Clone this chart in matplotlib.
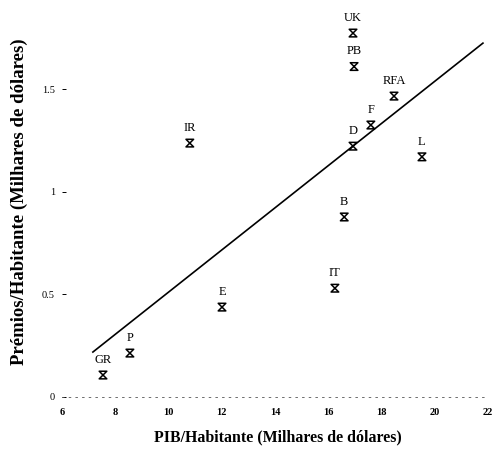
import numpy as np
import matplotlib
matplotlib.use("Agg")
import matplotlib.pyplot as plt
from matplotlib.path import Path

# countries, PIB/habitante (x) and premios/habitante (y), milhares de dolares
paises = ["UK", "PB", "RFA", "F", "D", "L", "IR", "B", "IT", "E", "P", "GR"]
pib = [16.93, 16.97, 18.47, 17.60, 16.93, 19.52, 10.80, 16.60, 16.25, 12.01, 8.55, 7.54]
premios = [1.773, 1.610, 1.466, 1.325, 1.222, 1.170, 1.237, 0.877, 0.530, 0.438, 0.214, 0.107]

# regression line end points
reta_x = [7.16, 21.81]
reta_y = [0.219, 1.724]

xticks = [6, 8, 10, 12, 14, 16, 18, 20, 22]
yticks = [0, 0.5, 1, 1.5]
ytick_labels = ["0", "0.5", "1", "1.5"]

plt.rcParams['font.family'] = ['Liberation Serif', 'DejaVu Serif']

# hourglass-like marker as in the original scan
ampulheta = Path([(-1, 1), (1, 1), (-1, -1), (1, -1), (-1, 1)],
                 [Path.MOVETO, Path.LINETO, Path.LINETO, Path.LINETO, Path.CLOSEPOLY])

fig = plt.figure(figsize=(4.99, 4.53), dpi=100)
ax = fig.add_axes([62/499, (453-397)/453, 426/499, (397-7)/453])

ax.plot(reta_x, reta_y, color="black", linewidth=1.2)
ax.scatter(pib, premios, marker=ampulheta, s=30, facecolors="none",
           edgecolors="black", linewidths=1.1, zorder=3)
for nome, x, y in zip(paises, pib, premios):
    ax.annotate(nome, (x, y), xytext=(0, 11), textcoords="offset points",
                ha="center", va="center", fontsize=9)

ax.set_xlim(6, 22)
ax.set_ylim(0, 1.9)
ax.set_xticks(xticks)
ax.set_xticklabels([str(t) for t in xticks], fontsize=7.5, fontweight="bold")
ax.set_yticks(yticks)
ax.set_yticklabels(ytick_labels, fontsize=7.5)
ax.tick_params(axis="x", length=0, pad=8)
ax.tick_params(axis="y", length=3, width=0.7, pad=5, direction="in")
for s in ["top", "right", "left"]:
    ax.spines[s].set_visible(False)
ax.spines["bottom"].set_linestyle((0, (2, 6)))
ax.spines["bottom"].set_linewidth(0.6)
ax.spines["bottom"].set_color("#555555")

fig.text(278/499, 1 - 437/453, "PIB/Habitante (Milhares de dólares)",
         ha="center", va="center", fontsize=11.4, fontweight="bold")
fig.text(19/499, 1 - 202/453, "Prémios/Habitante (Milhares de dólares)",
         ha="center", va="center", rotation=90, fontsize=13.5, fontweight="bold")

fig.savefig("out.png", dpi=100)
